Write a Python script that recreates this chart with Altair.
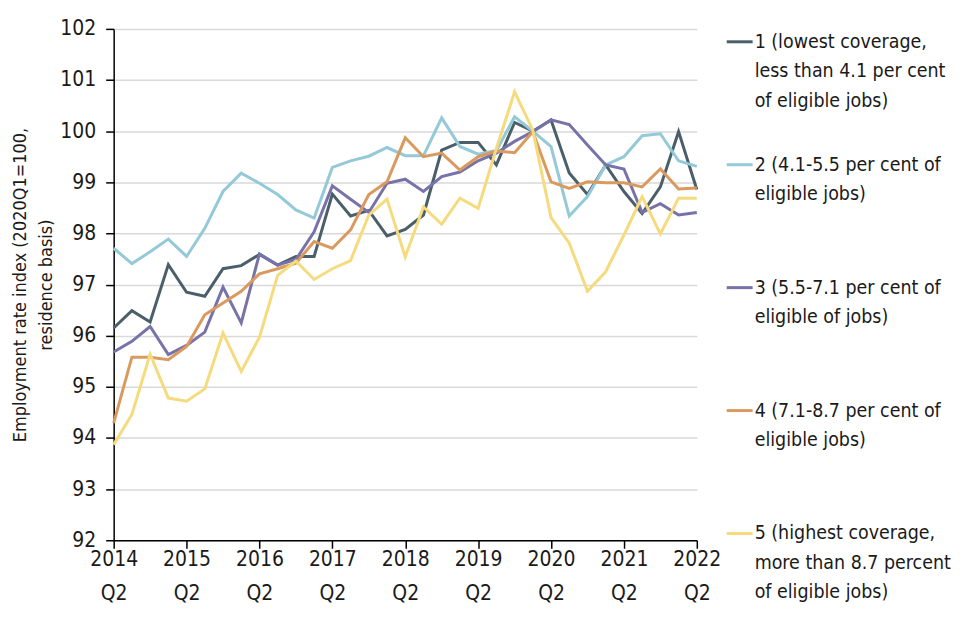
import altair as alt
import pandas as pd

# ---- data -------------------------------------------------------------
quarters = []
for yr in range(2014, 2023):
    for q in (1, 2, 3, 4):
        if (yr == 2014 and q < 2) or (yr == 2022 and q > 2):
            continue
        quarters.append(f"{yr} Q{q}")

tick_quarters = [f"{yr} Q2" for yr in range(2014, 2023)]

series_names = ["1", "2", "3", "4", "5"]

legend_labels = [
    "1 (lowest coverage,\nless than 4.1 per cent\nof eligible jobs)",
    "2 (4.1-5.5 per cent of\neligible jobs)",
    "3 (5.5-7.1 per cent of\neligible of jobs)",
    "4 (7.1-8.7 per cent of\neligible jobs)",
    "5 (highest coverage,\nmore than 8.7 percent\nof eligible jobs)",
]

s1 = [96.15, 96.49, 96.27, 97.39, 96.85, 96.77, 97.31, 97.37, 97.59, 97.38, 97.55,
      97.55, 98.77, 98.34, 98.45, 97.95, 98.08, 98.36, 99.63, 99.78, 99.78, 99.34,
      100.17, 100.0, 100.22, 99.18, 98.76, 99.34, 98.82, 98.39, 98.91, 99.99, 98.86]
s2 = [97.71, 97.41, 97.64, 97.89, 97.55, 98.10, 98.82, 99.18, 98.98, 98.76, 98.46,
      98.30, 99.29, 99.42, 99.51, 99.68, 99.52, 99.52, 100.26, 99.70, 99.55, 99.62,
      100.28, 100.0, 99.70, 98.34, 98.72, 99.34, 99.50, 99.91, 99.95, 99.42, 99.31]
s3 = [95.68, 95.89, 96.18, 95.63, 95.81, 96.07, 96.95, 96.25, 97.60, 97.38, 97.49,
      98.03, 98.93, 98.67, 98.41, 98.98, 99.06, 98.82, 99.11, 99.20, 99.42, 99.57,
      99.80, 99.99, 100.22, 100.13, 99.73, 99.34, 99.26, 98.41, 98.58, 98.36, 98.41]
s4 = [94.29, 95.58, 95.58, 95.53, 95.79, 96.41, 96.64, 96.87, 97.21, 97.31, 97.42,
      97.84, 97.71, 98.07, 98.76, 99.01, 99.87, 99.50, 99.57, 99.24, 99.50, 99.61,
      99.58, 99.99, 99.01, 98.88, 99.01, 98.99, 98.99, 98.91, 99.26, 98.87, 98.89]
s5 = [93.87, 94.46, 95.64, 94.78, 94.72, 94.96, 96.05, 95.30, 95.97, 97.18, 97.46,
      97.10, 97.31, 97.47, 98.36, 98.67, 97.54, 98.52, 98.18, 98.69, 98.49, 99.66,
      100.77, 100.02, 98.31, 97.81, 96.87, 97.25, 97.97, 98.72, 97.99, 98.69, 98.69]

colors = ["#4B5F6B", "#94C9D7", "#7772A8", "#DA9A5F", "#F5DB7E"]

y_ticks = list(range(92, 103))

# ---- frames -------------------------------------------------------------
rows = []
for name, vals in zip(series_names, [s1, s2, s3, s4, s5]):
    for q, v in zip(quarters, vals):
        rows.append({"quarter": q, "series": name, "value": v})
df = pd.DataFrame(rows)

leg_df = pd.DataFrame({"series": series_names, "label": legend_labels,
                       "order": list(range(len(series_names)))})

FONT = "DejaVu Sans Condensed, Liberation Sans Narrow, sans-serif"
TXT = "#1a1a1a"

color_scale = alt.Scale(domain=series_names, range=colors)

main = alt.Chart(df).mark_line(strokeWidth=3).encode(
    x=alt.X("quarter:O", sort=quarters,
            scale=alt.Scale(type="point", padding=0),
            axis=alt.Axis(values=tick_quarters, labelExpr="split(datum.label, ' ')",
                          labelAngle=0, title=None, grid=False, labelPadding=0,
                          labelLineHeight=34, labelFlush=False)),
    y=alt.Y("value:Q", scale=alt.Scale(domain=[92, 102], nice=False, zero=False),
            axis=alt.Axis(values=y_ticks, format="d", grid=True, labelPadding=10,
                          title=["Employment rate index (2020Q1=100,", "residence basis)"],
                          titlePadding=4, titleLineHeight=26)),
    color=alt.Color("series:N", scale=color_scale, legend=None),
).properties(width=585, height=513)

leg_base = alt.Chart(leg_df).encode(
    y=alt.Y("order:Q", scale=alt.Scale(domain=[-0.105, 4.055], reverse=True), axis=None)
)
leg_rules = leg_base.mark_rule(strokeWidth=3).encode(
    x=alt.value(1), x2=alt.value(27),
    color=alt.Color("series:N", scale=color_scale, legend=None),
)
leg_text = leg_base.mark_text(align="left", baseline="alphabetic", dy=6, lineBreak="\n",
                              font=FONT, fontSize=19.5, lineHeight=29.5, color=TXT).encode(
    x=alt.value(29), text="label:N"
)
legend_panel = alt.layer(leg_rules, leg_text).properties(width=222, height=513)

chart = alt.hconcat(main, legend_panel, spacing=29, bounds="flush").properties(
    padding={"left": 3, "top": 9, "right": 0, "bottom": 0},
).configure_view(stroke=None).configure_axis(
    labelFont=FONT, labelFontSize=21, labelColor=TXT,
    titleFont=FONT, titleFontSize=18, titleFontWeight="normal", titleColor=TXT,
    domainColor="#000000", domainWidth=1.5,
    tickColor="#000000", tickWidth=1.5, tickSize=8,
    gridColor="#D9D9D9", gridWidth=1.5,
)

chart.save("out.html", embed_options={"renderer": "svg", "actions": False})
